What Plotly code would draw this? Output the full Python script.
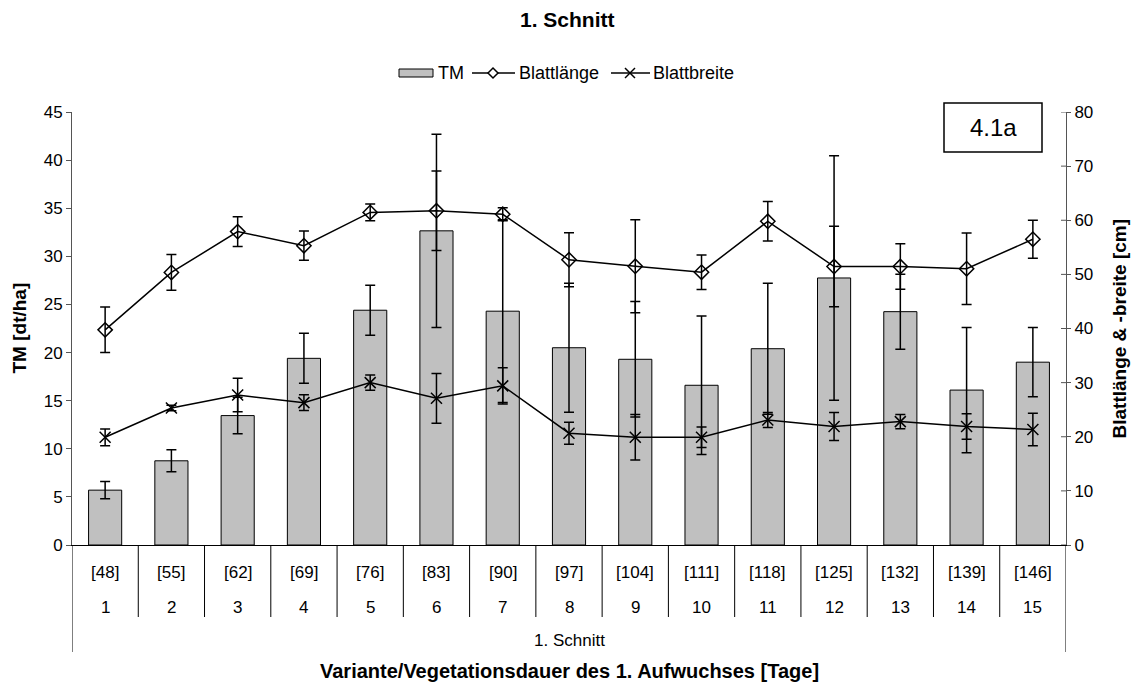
import plotly.graph_objects as go

# Varianten und Vegetationsdauer (Tage) des 1. Aufwuchses
varianten = [str(i) for i in range(1, 16)]
tage = ["[48]", "[55]", "[62]", "[69]", "[76]", "[83]", "[90]", "[97]",
        "[104]", "[111]", "[118]", "[125]", "[132]", "[139]", "[146]"]

# Trockenmasse [dt/ha] mit Standardabweichung
tm = [5.7, 8.75, 13.45, 19.4, 24.4, 32.65, 24.3, 20.5, 19.3, 16.6, 20.4, 27.75, 24.25, 16.1, 19.0]
tm_err = [0.9, 1.15, 1.9, 2.6, 2.6, 10.05, 9.5, 6.7, 6.0, 7.2, 6.8, 12.7, 3.9, 6.5, 3.6]

# Blattlänge und Blattbreite [cm] mit Standardabweichung
blattlaenge = [39.75, 50.35, 57.9, 55.3, 61.45, 61.75, 61.1, 52.7, 51.5, 50.4, 59.8, 51.45, 51.45, 51.05, 56.5]
blattlaenge_err = [4.2, 3.3, 2.75, 2.7, 1.55, 7.35, 1.2, 5.0, 8.6, 3.2, 3.65, 7.45, 4.2, 6.6, 3.5]
blattbreite = [19.9, 25.3, 27.7, 26.3, 30.0, 27.1, 29.4, 20.65, 19.9, 19.9, 23.1, 21.9, 22.8, 21.9, 21.35]
blattbreite_err = [1.55, 0.5, 3.1, 1.45, 1.4, 4.6, 3.35, 2.05, 4.2, 1.9, 1.4, 2.6, 1.3, 2.35, 3.0]

# Achsenbereiche
tm_max, tm_step = 45, 5
cm_max, cm_step = 80, 10

W, H = 1134, 686
L, R, T, B = 72, 1066, 112, 545
FONT = "Liberation Sans, Arial, sans-serif"
AXIS_COL = "#555555"

xs = list(range(1, 16))


def px(x):
    return (x - L) / (R - L)


def py(y):
    return (B - y) / (B - T)


def label(x, y, text, size, xref="paper", **kw):
    opts = dict(x=x, y=y, xref=xref, yref="paper", text=text, showarrow=False,
                xanchor="center", yanchor="middle", font=dict(size=size, color="black"))
    opts.update(kw)
    return opts


fig = go.Figure()

fig.add_trace(go.Bar(
    x=xs, y=tm, name="TM", width=0.5,
    marker=dict(color="#C0C0C0", line=dict(color="black", width=1)),
    error_y=dict(type="data", array=tm_err, color="black", thickness=1.5, width=5),
    showlegend=False,
))

fig.add_trace(go.Scatter(
    x=xs, y=blattlaenge, name="Blattlänge", yaxis="y2", mode="lines+markers",
    line=dict(color="black", width=1.5),
    marker=dict(symbol="diamond-open", size=11, color="black", line=dict(width=1.5)),
    error_y=dict(type="data", array=blattlaenge_err, color="black", thickness=1.5, width=5),
    showlegend=False,
))

fig.add_trace(go.Scatter(
    x=xs, y=blattbreite, name="Blattbreite", yaxis="y2", mode="lines+markers",
    line=dict(color="black", width=1.5),
    marker=dict(symbol="x-thin-open", size=11, color="black", line=dict(width=1.5)),
    error_y=dict(type="data", array=blattbreite_err, color="black", thickness=1.5, width=5),
    showlegend=False,
))

shapes = []
annotations = []

# Kategorie-Beschriftung unter der x-Achse
for i, x in enumerate(xs):
    annotations.append(label(x, py(572), tage[i], 17, xref="x"))
    annotations.append(label(x, py(607), varianten[i], 17, xref="x"))

for k in range(16):
    xb = k + 0.5
    y_end = 652 if k in (0, 15) else 617
    shapes.append(dict(type="line", xref="x", yref="paper", x0=xb, x1=xb,
                       y0=py(B), y1=py(y_end), line=dict(color="black", width=1)))

# rechte Achse: Teilstriche nach innen verlängert
for v in range(0, cm_max + 1, cm_step):
    shapes.append(dict(type="line", xref="paper", yref="y2", x0=px(R - 5), x1=1,
                       y0=v, y1=v, line=dict(color=AXIS_COL, width=1)))

annotations.append(label(px((L + R) / 2), py(640), "1. Schnitt", 17))
annotations.append(label(px((L + R) / 2), py(671),
                         "<b>Variante/Vegetationsdauer des 1. Aufwuchses [Tage]</b>", 20))

# Titel
annotations.append(label(px(567), py(19), "<b>1. Schnitt</b>", 21))

# Achsentitel
annotations.append(label(px(19), 0.5, "<b>TM [dt/ha]</b>", 19, textangle=-90))
annotations.append(label(px(1119), 0.5, "<b>Blattlänge & -breite [cm]</b>", 19, textangle=-90))

# Legende
ly = 73
shapes.append(dict(type="rect", xref="paper", yref="paper", x0=px(399), x1=px(433),
                   y0=py(ly + 4), y1=py(ly - 4), fillcolor="#C0C0C0",
                   line=dict(color="black", width=1)))
annotations.append(label(px(436), py(ly), "TM", 18, xanchor="left"))
shapes.append(dict(type="line", xref="paper", yref="paper", x0=px(472), x1=px(515),
                   y0=py(ly), y1=py(ly), line=dict(color="black", width=1.5)))
d = 5
shapes.append(dict(type="path", xref="paper", yref="paper",
                   path=f"M {px(493 - d)},{py(ly)} L {px(493)},{py(ly - d)} "
                        f"L {px(493 + d)},{py(ly)} L {px(493)},{py(ly + d)} Z",
                   fillcolor="white", line=dict(color="black", width=1.5)))
annotations.append(label(px(517), py(ly), "Blattlänge", 18, xanchor="left"))
shapes.append(dict(type="line", xref="paper", yref="paper", x0=px(611), x1=px(650),
                   y0=py(ly), y1=py(ly), line=dict(color="black", width=1.5)))
c = 5
for s in (-1, 1):
    shapes.append(dict(type="line", xref="paper", yref="paper",
                       x0=px(630 - c), x1=px(630 + c), y0=py(ly - s * c), y1=py(ly + s * c),
                       line=dict(color="black", width=1.5)))
annotations.append(label(px(651), py(ly), "Blattbreite", 18, xanchor="left"))

# Kennzeichnung
shapes.append(dict(type="rect", xref="paper", yref="paper", x0=px(944), x1=px(1042),
                   y0=py(152), y1=py(103), fillcolor="white",
                   line=dict(color="black", width=1.5)))
annotations.append(label(px(993), py(127.5), "4.1a", 24))

fig.update_layout(
    width=W, height=H,
    margin=dict(l=L, r=W - R, t=T, b=H - B),
    paper_bgcolor="white", plot_bgcolor="white",
    font=dict(family=FONT, size=17, color="black"),
    showlegend=False,
    bargap=0.5,
    xaxis=dict(range=[0.5, 15.5], showticklabels=False, ticks="", showgrid=False,
               zeroline=False, showline=True, linecolor="black", linewidth=1),
    yaxis=dict(range=[0, tm_max], dtick=tm_step, tick0=0, ticks="outside", ticklen=5,
               tickcolor=AXIS_COL, showgrid=False, zeroline=False, showline=True,
               linecolor=AXIS_COL, linewidth=1, tickfont=dict(size=17, color="black")),
    yaxis2=dict(range=[0, cm_max], dtick=cm_step, tick0=0, overlaying="y", side="right",
                ticks="outside", ticklen=4, tickcolor=AXIS_COL, showgrid=False,
                zeroline=False, showline=True, linecolor=AXIS_COL, linewidth=1,
                tickfont=dict(size=17, color="black")),
    shapes=shapes,
    annotations=annotations,
)

fig.write_html("out.html")
